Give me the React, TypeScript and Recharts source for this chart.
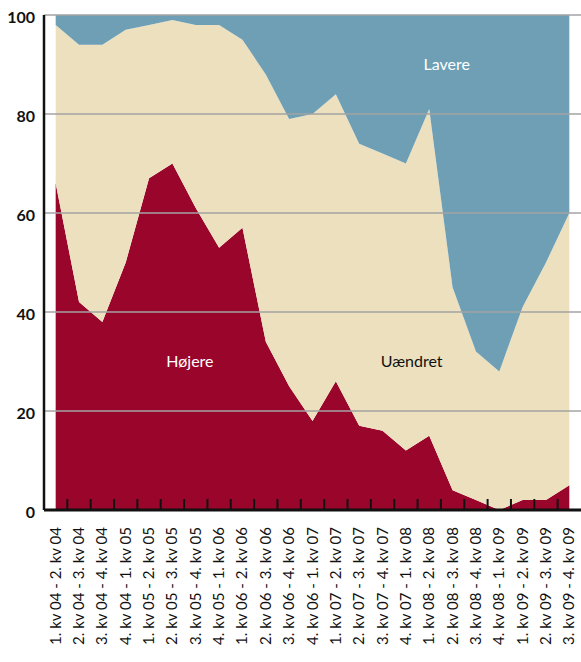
import { AreaChart, Area, XAxis, YAxis, ReferenceLine, ReferenceDot, Label } from 'recharts';

const categories = [
  '1. kv 04 - 2. kv 04', '2. kv 04 - 3. kv 04', '3. kv 04 - 4. kv 04', '4. kv 04 - 1. kv 05',
  '1. kv 05 - 2. kv 05', '2. kv 05 - 3. kv 05', '3. kv 05 - 4. kv 05', '4. kv 05 - 1. kv 06',
  '1. kv 06 - 2. kv 06', '2. kv 06 - 3. kv 06', '3. kv 06 - 4. kv 06', '4. kv 06 - 1. kv 07',
  '1. kv 07 - 2. kv 07', '2. kv 07 - 3. kv 07', '3. kv 07 - 4. kv 07', '4. kv 07 - 1. kv 08',
  '1. kv 08 - 2. kv 08', '2. kv 08 - 3. kv 08', '3. kv 08 - 4. kv 08', '4. kv 08 - 1. kv 09',
  '1. kv 09 - 2. kv 09', '2. kv 09 - 3. kv 09', '3. kv 09 - 4. kv 09',
];
const hojere = [66, 42, 38, 50, 67, 70, 61, 53, 57, 34, 25, 18, 26, 17, 16, 12, 15, 4, 2, 0, 2, 2, 5];
const uaendret = [32, 52, 56, 47, 31, 29, 37, 45, 38, 54, 54, 62, 58, 57, 56, 58, 66, 41, 30, 28, 39, 48, 55];
const lavere = [2, 6, 6, 3, 2, 1, 2, 2, 5, 12, 21, 20, 16, 26, 28, 30, 19, 55, 68, 72, 59, 50, 40];
const yTicks = [0, 20, 40, 60, 80, 100];
const gridValues = [20, 40, 60, 80, 100];

const data = categories.map((c, i) => ({ i, label: c, hojere: hojere[i], uaendret: uaendret[i], lavere: lavere[i] }));
const labelIdx = categories.map((_, i) => i);
// tick marks sit between the categories
const markIdx = categories.slice(1).map((_, i) => i + 0.5);

const FONT = 'Lato, "Open Sans", sans-serif';

const YTick = ({ x, y, payload }: any) => (
  <text x={x} y={y + 8} textAnchor="end" fontFamily={FONT} fontWeight={700} fontSize={16} fill="#111">
    {payload.value}
  </text>
);

const XLabel = ({ x, y, payload }: any) => (
  <text transform={`translate(${x + 5},${y}) rotate(-90)`} textAnchor="end" fontFamily={FONT} fontSize={15} fill="#111">
    {categories[payload.value]}
  </text>
);

const MarkShape = (props: any) => {
  const bottom = Math.max(props.y1, props.y2);
  return <line x1={props.x1} x2={props.x1} y1={bottom - 11} y2={bottom} stroke="#111" strokeWidth={2} />;
};

export default function App() {
  return (
    <div style={{ position: 'absolute', left: 0, top: 0, background: '#fff' }}>
      <AreaChart width={581} height={662} data={data} margin={{ top: 15, right: 0, left: 0, bottom: 0 }}>
        <XAxis
          type="number"
          dataKey="i"
          domain={[-0.5, 22.5]}
          ticks={labelIdx}
          interval={0}
          height={152}
          tickLine={false}
          tickSize={0}
          tickMargin={17}
          tick={<XLabel />}
          axisLine={false}
        />
        <YAxis
          type="number"
          domain={[0, 100]}
          ticks={yTicks}
          width={44}
          tickLine={false}
          tickSize={0}
          tickMargin={9}
          tick={<YTick />}
          axisLine={{ stroke: '#111', strokeWidth: 2.5 }}
        />
        <Area type="linear" dataKey="hojere" stackId="s" stroke="none" fill="#9a052c" fillOpacity={1} isAnimationActive={false} />
        <Area type="linear" dataKey="uaendret" stackId="s" stroke="none" fill="#ece0bf" fillOpacity={1} isAnimationActive={false} />
        <Area type="linear" dataKey="lavere" stackId="s" stroke="none" fill="#6e9fb5" fillOpacity={1} isAnimationActive={false} />
        {gridValues.map((v) => (
          <ReferenceLine key={v} y={v} stroke="#a3a3a3" strokeWidth={1.5} />
        ))}
        <ReferenceLine y={0} stroke="#111" strokeWidth={3} />
        {markIdx.map((v) => (
          <ReferenceLine key={`m${v}`} x={v} shape={<MarkShape />} />
        ))}
        <ReferenceDot x={5.75} y={30} r={0} stroke="none" fill="none">
          <Label value="Højere" position="center" fill="#fff" fontFamily={FONT} fontSize={16} />
        </ReferenceDot>
        <ReferenceDot x={15.25} y={30} r={0} stroke="none" fill="none">
          <Label value="Uændret" position="center" fill="#111" fontFamily={FONT} fontSize={16} />
        </ReferenceDot>
        <ReferenceDot x={16.75} y={90} r={0} stroke="none" fill="none">
          <Label value="Lavere" position="center" fill="#fff" fontFamily={FONT} fontSize={16} />
        </ReferenceDot>
      </AreaChart>
    </div>
  );
}
